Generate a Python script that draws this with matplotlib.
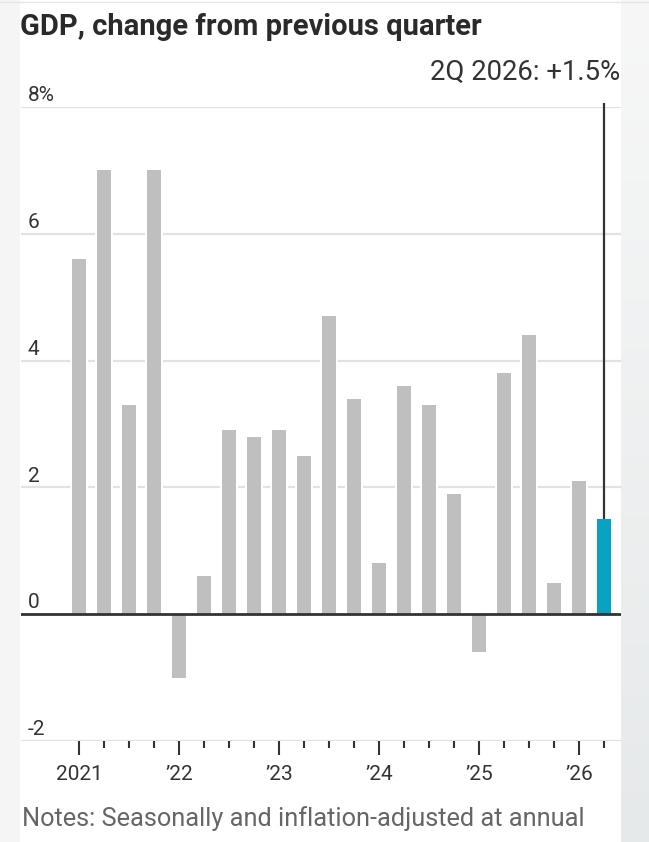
#!/usr/bin/env python3
# -*- coding: utf-8 -*-
"""GDP, change from previous quarter -- quarterly bar chart, last quarter highlighted."""

import numpy as np
import matplotlib
matplotlib.use("Agg")
import matplotlib.pyplot as plt

# =============================================================================
# data (quarterly, 1Q 2021 .. 2Q 2026), percent at annual rate

QUARTERS = [
    "1Q21", "2Q21", "3Q21", "4Q21",
    "1Q22", "2Q22", "3Q22", "4Q22",
    "1Q23", "2Q23", "3Q23", "4Q23",
    "1Q24", "2Q24", "3Q24", "4Q24",
    "1Q25", "2Q25", "3Q25", "4Q25",
    "1Q26", "2Q26",
]
GDP_CHANGE = [
    5.6, 7.0, 3.3, 7.0,
    -1.0, 0.6, 2.9, 2.8,
    2.9, 2.5, 4.7, 3.4,
    0.8, 3.6, 3.3, 1.9,
    -0.6, 3.8, 4.4, 0.5,
    2.1, 1.5,
]
YEAR_LABELS = ["2021", "\u201922", "\u201923", "\u201924", "\u201925", "\u201926"]
Y_TICKS = [-2, 0, 2, 4, 6, 8]
Y_TICK_LABELS = ["-2", "0", "2", "4", "6", "8%"]

TITLE = "GDP, change from previous quarter"
NOTE = "Notes: Seasonally and inflation-adjusted at annual"
ANNOT = "2Q 2026: +1.5%"

GREY_BAR = "#bfbfbf"
HIGHLIGHT = "#0aa2c0"
DARK = "#333333"
GRID = "#e2e2e2"

FONT = ["Roboto", "DejaVu Sans"]

# =============================================================================

W, H = 649, 842
fig = plt.figure(figsize=(W / 100, H / 100), dpi=100)
fig.patch.set_facecolor("white")

# page background strips (left + right), like the page around the graphic
bg = fig.add_axes([0, 0, 1, 1], zorder=-10)
bg.axis("off")
bg.add_patch(plt.Rectangle((0, 0), 20, H, color="#f5f5f5", lw=0))
grad = np.linspace(0, 1, 256).reshape(-1, 1)
bg.imshow(grad, extent=(621, W, H, 0), aspect="auto",
          cmap=matplotlib.colors.LinearSegmentedColormap.from_list(
              "bg", ["#f7f7f7", "#e6e9ea"]))
bg.plot([0, W], [2, 2], color="#e6e6e6", lw=1)
bg.set_xlim(0, W)
bg.set_ylim(H, 0)

x = np.arange(len(QUARTERS))
vals = np.array(GDP_CHANGE)

# axes pixel box: x 21..621, y(8)=107, y(-2)=741
ax = fig.add_axes([21 / W, (H - 741) / H, 600 / W, (741 - 107) / H])
ax.set_facecolor("white")
ax.set_xlim((21 - 79) / 25.0, (621 - 79) / 25.0)
ax.set_ylim(-2, 8)

for s in ax.spines.values():
    s.set_visible(False)

# gridlines
for yv in Y_TICKS:
    if yv == 0:
        continue
    ax.axhline(yv, color=GRID, lw=1.6, zorder=1)

# white halo behind bars so gridlines are broken around them
ax.bar(x, vals, width=0.74, color="white", lw=0, zorder=2)
colors = [GREY_BAR] * (len(vals) - 1) + [HIGHLIGHT]
ax.bar(x, vals, width=0.56, color=colors, lw=0, zorder=3)

# zero line
ax.axhline(0, color=DARK, lw=2.0, zorder=5)

# annotation line for the latest quarter
ax.plot([x[-1], x[-1]], [vals[-1], 8.07], color=DARK, lw=1.6,
        zorder=4, clip_on=False, solid_capstyle="butt")
ax.text(0.998, 8.42, ANNOT, transform=ax.get_yaxis_transform(),
        ha="right", va="baseline", fontsize=19.8, color=DARK, family=FONT)

# y tick labels, sitting just above the gridlines
ax.set_yticks([])
for yv, lab in zip(Y_TICKS, Y_TICK_LABELS):
    ax.text(ax.get_xlim()[0] + 0.28, yv + 0.09, lab, ha="left", va="baseline",
            fontsize=15, color=DARK, family=FONT)

# x ticks: long labelled ticks at each year start, short ticks for other quarters
year_pos = x[::4]
ax.set_xticks(year_pos)
ax.set_xticklabels(YEAR_LABELS)
ax.set_xticks([q for q in x if q % 4 != 0], minor=True)
ax.tick_params(axis="x", which="major", length=10, width=1.5, color=DARK,
               pad=7, labelsize=15, labelcolor=DARK)
ax.tick_params(axis="x", which="minor", length=5, width=1.5, color=DARK)
for t in ax.get_xticklabels():
    t.set_family(FONT)

# title and note
fig.text(20 / W, 1 - 35 / H, TITLE, ha="left", va="baseline",
         fontsize=21, fontweight="bold", color="#2a2a2a", family=FONT)
fig.text(22 / W, 1 - 826 / H, NOTE, ha="left", va="baseline",
         fontsize=18.3, color="#666666", family=FONT)

fig.savefig("out.png", dpi=100)
